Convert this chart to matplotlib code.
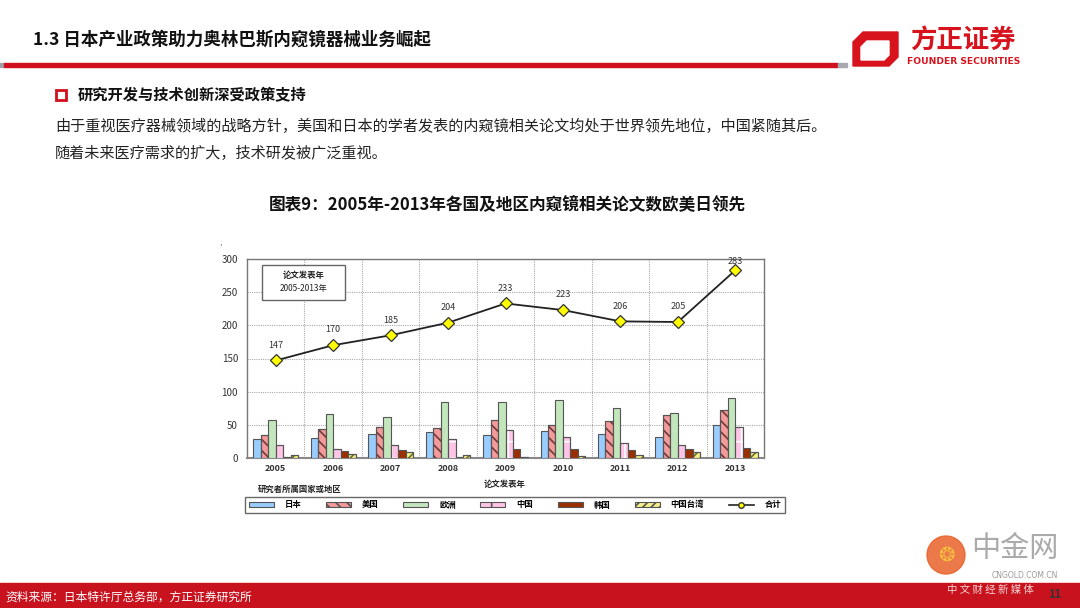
import matplotlib
matplotlib.use("Agg")
import matplotlib.pyplot as plt
import matplotlib.patches as mpatches
from matplotlib.lines import Line2D
import numpy as np

plt.rcParams['font.family'] = ['Noto Sans CJK SC', 'DejaVu Sans']
plt.rcParams['hatch.linewidth'] = 1.2

years = ['2005', '2006', '2007', '2008', '2009', '2010', '2011', '2012', '2013']
series_names = ['日本', '美国', '欧洲', '中国', '韩国', '中国台湾']
japan  = [28, 30, 36, 39, 34, 40, 36, 31, 50]
usa    = [35, 44, 47, 45, 57, 49, 56, 65, 73]
europe = [57, 67, 62, 85, 84, 87, 75, 68, 91]
china  = [20, 13, 19, 28, 42, 31, 23, 20, 46]
korea  = [2, 10, 12, 2, 14, 13, 12, 14, 15]
taiwan = [5, 6, 9, 5, 2, 3, 5, 9, 9]
total  = [147, 170, 185, 204, 233, 223, 206, 205, 283]
yticks = [0, 50, 100, 150, 200, 250, 300]

W, H = 1080, 608
fig = plt.figure(figsize=(W / 100, H / 100), dpi=100)

def fx(px):
    return px / W

def fy(py):
    return 1 - py / H

# ---------- page decorations ----------
fig.text(fx(33), fy(40), '1.3 日本产业政策助力奥林巴斯内窥镜器械业务崛起', fontsize=12.6,
         fontweight='bold', va='center', ha='left', color='#111111')
fig.add_artist(mpatches.Rectangle((fx(0), fy(67)), fx(4), 4 / H, color='#A0A0A8', transform=fig.transFigure))
fig.add_artist(mpatches.Rectangle((fx(4), fy(67)), fx(834), 4 / H, color='#D0101C', transform=fig.transFigure))
fig.add_artist(mpatches.Rectangle((fx(838), fy(67)), fx(9), 4 / H, color='#A8A8B0', transform=fig.transFigure))

# logo
outer = mpatches.Polygon([[fx(863), fy(32)], [fx(898), fy(32)], [fx(898), fy(57)], [fx(889), fy(66)],
                          [fx(853), fy(66)], [fx(853), fy(42)]],
                         closed=True, color='#D7141E', transform=fig.transFigure)
fig.add_artist(outer)
inner = mpatches.Polygon([[fx(867), fy(41)], [fx(889), fy(41)], [fx(889), fy(55)], [fx(884), fy(60)],
                          [fx(861), fy(60)], [fx(861), fy(47)]],
                         closed=True, color='white', transform=fig.transFigure)
fig.add_artist(inner)
fig.text(fx(963), fy(41), '方正证券', fontsize=19, fontweight='bold', color='#D7141E',
         ha='center', va='center')
fig.text(fx(964), fy(62), 'FOUNDER SECURITIES', fontsize=6.6, fontweight='bold', color='#D7141E',
         ha='center', va='center', family=['DejaVu Sans'])

# bullet
fig.add_artist(mpatches.Rectangle((fx(56), fy(100)), fx(10), 10 / H, fill=False, edgecolor='#D0101C',
                                  linewidth=2, transform=fig.transFigure))
fig.text(fx(78), fy(95), '研究开发与技术创新深受政策支持', fontsize=11, fontweight='bold',
         va='center', ha='left', color='#111111')
fig.text(fx(55), fy(126), '由于重视医疗器械领域的战略方针，美国和日本的学者发表的内窥镜相关论文均处于世界领先地位，中国紧随其后。',
         fontsize=10.9, va='center', ha='left', color='#222222')
fig.text(fx(55), fy(153), '随着未来医疗需求的扩大，技术研发被广泛重视。',
         fontsize=10.9, va='center', ha='left', color='#222222')

fig.text(fx(507), fy(205), '图表9：2005年-2013年各国及地区内窥镜相关论文数欧美日领先', fontsize=12,
         fontweight='bold', ha='center', va='center', color='#111111')

# bottom band
fig.add_artist(mpatches.Rectangle((0, 0), 1, 25 / H, color='#C8121E', transform=fig.transFigure))
fig.text(fx(5), fy(597), '资料来源：日本特许厅总务部，方正证券研究所', fontsize=8.5, color='white',
         ha='left', va='center')
fig.text(fx(1055), fy(594), '11', fontsize=8, fontweight='bold', color='#333333', ha='center', va='center')

# watermark
fig.add_artist(mpatches.Ellipse((fx(946), fy(555)), 38 / W, 38 / H, color='#E8622A', alpha=0.85,
                                transform=fig.transFigure))
fig.text(fx(946), fy(555), '❂', fontsize=14, color='#F6C040', ha='center', va='center',
         family=['DejaVu Sans'])
fig.text(fx(1015), fy(549), '中金网', fontsize=21, color='#AAAAAA', ha='center', va='center')
fig.text(fx(1025), fy(575), 'CNGOLD.COM.CN', fontsize=5.5, color='#999999', ha='center', va='center',
         family=['DejaVu Sans'])
fig.text(fx(990), fy(590), '中 文 财 经 新 媒 体', fontsize=7.5, color='#F3D6D6', ha='center', va='center')

# ---------- chart ----------
ax = fig.add_axes([fx(247), fy(458), 517 / W, 199 / H])
x = np.arange(len(years))
bw = 0.13
styles = [
    dict(color='#99CCFF', hatch=None, hcol='#555555'),
    dict(color='#F49A9A', hatch='\\\\\\', hcol='#6E3A3A'),
    dict(color='#C3E6BC', hatch=None, hcol='#555555'),
    dict(color='#FFC4E6', hatch='+', hcol='#FFFFFF'),
    dict(color='#9A3000', hatch=None, hcol='#555555'),
    dict(color='#F4F088', hatch='////', hcol='#6B6B2A'),
]
data = [japan, usa, europe, china, korea, taiwan]
handles = []
for i, (vals, st) in enumerate(zip(data, styles)):
    offs = (i - 2.5) * bw
    ax.bar(x + offs, vals, width=bw, color=st['color'], edgecolor='#555555', linewidth=0.8, zorder=3)
    if st['hatch']:
        ax.bar(x + offs, vals, width=bw, color='none', edgecolor=st['hcol'], hatch=st['hatch'],
               linewidth=0, zorder=3.5)
        ax.bar(x + offs, vals, width=bw, color='none', edgecolor='#555555', linewidth=0.8, zorder=4)
    handles.append(mpatches.Patch(facecolor=st['color'], edgecolor='#555555',
                                  hatch=st['hatch'], linewidth=0.8, label=series_names[i]))

ax.plot(x, total, color='#222222', linewidth=1.3, marker='D', markersize=6.5,
        markerfacecolor='#FFFF00', markeredgecolor='#333333', markeredgewidth=0.9, zorder=5)
for xi, t in zip(x, total):
    ax.text(xi, min(t + 23, 296), str(t), fontsize=6.5, ha='center', va='center', color='#333333')

ax.set_xlim(-0.5, len(years) - 0.5)
ax.set_ylim(0, 300)
ax.set_yticks(yticks)
ax.set_yticklabels([str(v) for v in yticks], fontsize=7, color='#333333')
ax.set_xticks(x)
ax.set_xticklabels(years, fontsize=6.5, color='#333333', fontweight='bold')
ax.tick_params(length=0, pad=4)
ax.tick_params(axis='y', pad=6.5)
for v in yticks[1:]:
    ax.axhline(v, color='#AAAAAA', linestyle=(0, (1, 1)), linewidth=0.8, zorder=1)
for xv in np.arange(0.5, len(years) - 0.5, 1):
    ax.axvline(xv, color='#AAAAAA', linestyle=(0, (1, 1)), linewidth=0.8, zorder=1)
for s in ax.spines.values():
    s.set_color('#777777')
    s.set_linewidth(1.0)
ax.spines['bottom'].set_color('#888888')
ax.spines['bottom'].set_linewidth(1.5)

# inset note box
ax.add_patch(mpatches.Rectangle((0.029, 0.794), 0.16, 0.176, transform=ax.transAxes,
                                fill=True, facecolor='white', edgecolor='#666666', linewidth=1.0, zorder=6))
ax.text(0.109, 0.915, '论文发表年', transform=ax.transAxes, fontsize=6, fontweight='bold',
        ha='center', va='center', color='#222222', zorder=7)
ax.text(0.109, 0.85, '2005-2013年', transform=ax.transAxes, fontsize=6,
        ha='center', va='center', color='#222222', zorder=7)

fig.text(fx(220), fy(248), '′', fontsize=6, color='#666666', ha='center', va='center')
fig.text(fx(505), fy(484), '论文发表年', fontsize=6, fontweight='bold', ha='center', va='center',
         color='#222222')
fig.text(fx(300), fy(489), '研究者所属国家或地区', fontsize=6, fontweight='bold', ha='center',
         va='center', color='#222222')

handles.append(Line2D([0], [0], color='#222222', linewidth=1.2, marker='o', markersize=4,
                      markerfacecolor='#FFFF00', markeredgecolor='#333333', label='合计'))
leg = fig.legend(handles=handles, loc='center', ncol=7,
                 bbox_to_anchor=(fx(515), fy(505)), frameon=True,
                 handlelength=3.0, handleheight=0.5, columnspacing=2.95, handletextpad=1.3,
                 borderpad=0.45, fancybox=False, prop={'size': 6, 'weight': 'bold'})
leg.get_frame().set_edgecolor('#444444')
leg.get_frame().set_linewidth(1.0)

fig.savefig('out.png', dpi=100)
